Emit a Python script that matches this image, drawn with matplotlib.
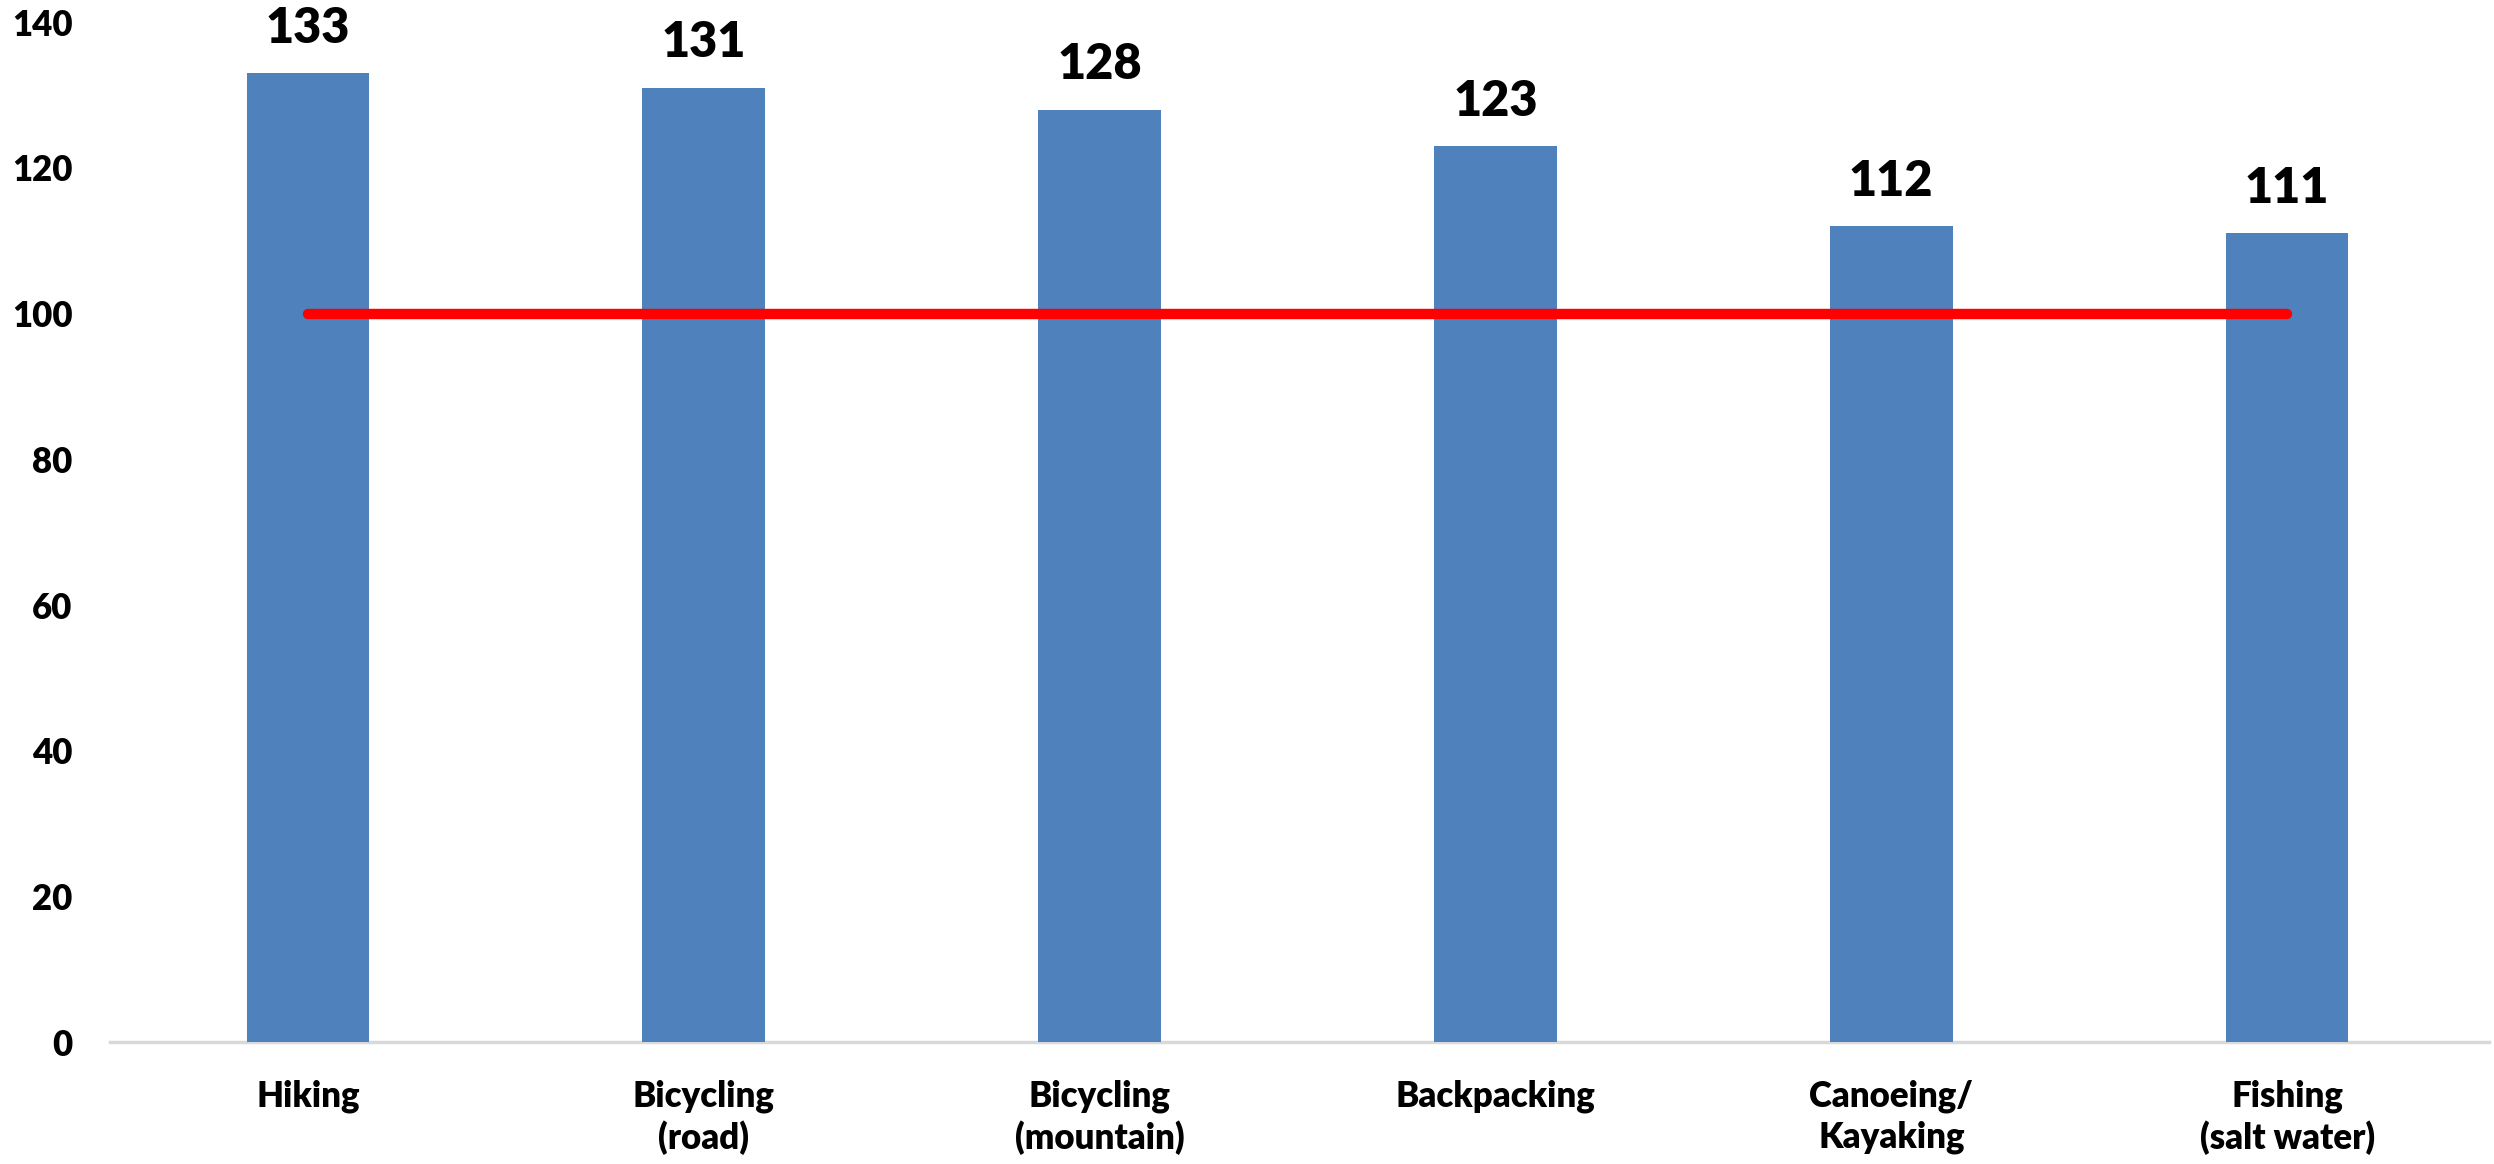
import matplotlib
matplotlib.use("Agg")
import matplotlib.pyplot as plt

# Participation index by outdoor activity (baseline = 100)
categories = ["Hiking", "Bicycling\n(road)", "Bicycling\n(mountain)", "Backpacking",
              "Canoeing/\nKayaking", "Fishing\n(salt water)"]
index_values = [133, 131, 128, 123, 112, 111]
baseline = [100, 100, 100, 100, 100, 100]
y_ticks = [0, 20, 40, 60, 80, 100, 120, 140]

plt.rcParams["font.family"] = ["Lato", "DejaVu Sans"]
WEIGHT = "heavy"

fig = plt.figure(figsize=(24.94, 11.64), dpi=100)
ax = fig.add_axes([0.0441, 0.1045, 0.9539, 0.8765])

x = list(range(len(categories)))
ax.bar(x, index_values, width=0.31, color="#4F81BD", zorder=2)
ax.plot(x, baseline, color="#FF0000", lw=7.5, solid_capstyle="round", zorder=3)

for xi, v in zip(x, index_values):
    ax.annotate(str(v), (xi, v), xytext=(0, 16), textcoords="offset points",
                ha="center", va="bottom", fontsize=35, fontweight=WEIGHT)

ax.set_xlim(-0.5, 5.51)
ax.set_ylim(0, 140)
ax.set_yticks(y_ticks)
ax.set_xticks(x)
ax.set_xticklabels(categories, fontsize=25, fontweight=WEIGHT, linespacing=1.25)
ax.tick_params(axis="y", labelsize=25, length=0, pad=27)
ax.tick_params(axis="x", length=0, pad=27)
for lbl in ax.get_yticklabels():
    lbl.set_fontweight(WEIGHT)

for side in ("top", "right", "left"):
    ax.spines[side].set_visible(False)
ax.spines["bottom"].set_color("#D9D9D9")
ax.spines["bottom"].set_linewidth(2.5)
ax.spines["bottom"].set_zorder(1)

fig.savefig("out.png", dpi=100)
